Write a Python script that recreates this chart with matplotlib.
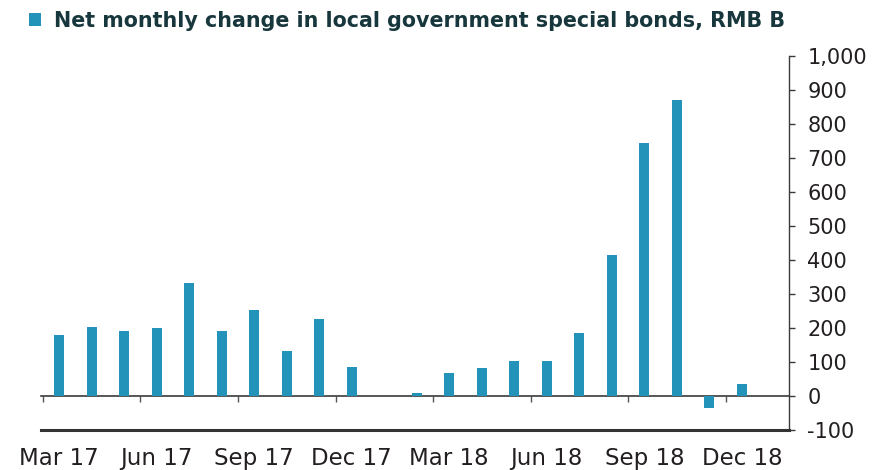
import matplotlib
matplotlib.use('Agg')
import matplotlib.pyplot as plt
import numpy as np

# net monthly change, RMB B, Mar 17 .. Dec 18
months = ['Mar 17', 'Apr 17', 'May 17', 'Jun 17', 'Jul 17', 'Aug 17',
          'Sep 17', 'Oct 17', 'Nov 17', 'Dec 17', 'Jan 18', 'Feb 18',
          'Mar 18', 'Apr 18', 'May 18', 'Jun 18', 'Jul 18', 'Aug 18',
          'Sep 18', 'Oct 18', 'Nov 18', 'Dec 18']
values = [179, 202, 192, 199, 331, 192, 253, 132, 226, 84, 0, 9,
          66, 82, 102, 102, 184, 413, 744, 870, -34, 34]
y_ticks = [-100, 0, 100, 200, 300, 400, 500, 600, 700, 800, 900, 1000]
label = 'Net monthly change in local government special bonds, RMB B'

bar_color = '#2493ba'
text_color = '#231f20'
axis_color = '#3a3a3a'

W, H = 892, 470
fig = plt.figure(figsize=(W / 100, H / 100), dpi=100)
ax = fig.add_axes([41 / W, 1 - 430 / H, (789 - 41) / W, (430 - 55.5) / H])

x = np.arange(len(months))
ax.bar(x, values, width=0.3, color=bar_color, linewidth=0,
       label=label, zorder=3)

ax.set_xlim(-0.56, 22.45)
ax.set_ylim(-100, 1000)

# spines: right axis, x axis drawn at zero, thick base at -100
for side in ['left', 'top']:
    ax.spines[side].set_visible(False)
ax.spines['right'].set_color(axis_color)
ax.spines['right'].set_linewidth(1.0)
ax.spines['bottom'].set_position(('data', 0))
ax.spines['bottom'].set_color(axis_color)
ax.spines['bottom'].set_linewidth(1.2)
ax.axhline(-100, color='#333333', linewidth=2.2, clip_on=False, zorder=4)

ax.yaxis.tick_right()
ax.set_yticks(y_ticks)
ax.set_yticklabels([f'{v:,}' for v in y_ticks])
ax.tick_params(axis='y', direction='out', length=4.3, width=1.0,
               color=axis_color, pad=9, labelsize=15, labelcolor=text_color)

# quarter boundaries as ticks, labels centred on the month
idx = x[::3]
ax.set_xticks(idx - 0.5)
ax.set_xticklabels([])
ax.set_xticks(idx, minor=True)
ax.set_xticklabels([months[i] for i in idx], minor=True)
ax.tick_params(axis='x', which='major', direction='out', length=4.3,
               width=1.0, color='#555555')
ax.tick_params(axis='x', which='minor', length=0, pad=36.5, labelsize=16.5,
               labelcolor=text_color)

fig.legend(loc='upper left', bbox_to_anchor=(29 / W, 1 - 11 / H),
           frameon=False, handlelength=0.6, handleheight=0.6,
           handletextpad=0.6, borderpad=0, borderaxespad=0,
           prop={'weight': 'bold', 'size': 14.9}, labelcolor='#17373d')

fig.savefig('out.png', dpi=100)
